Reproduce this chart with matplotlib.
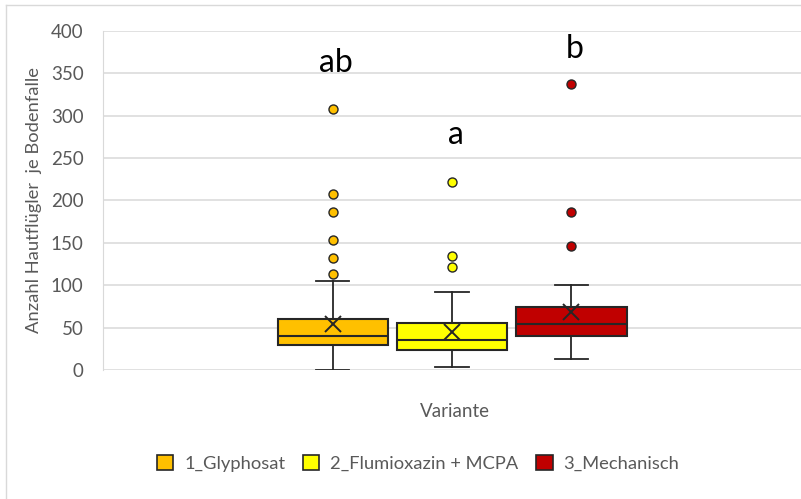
import matplotlib
matplotlib.use("Agg")
import matplotlib.pyplot as plt
from matplotlib.lines import Line2D
from matplotlib.patches import Patch

plt.rcParams['font.family'] = ['Lato', 'DejaVu Sans']

# Data
varianten = ['1_Glyphosat', '2_Flumioxazin + MCPA', '3_Mechanisch']
whisker_low = [0, 4, 13]
q1 = [29, 24, 40]
median = [40, 35, 54]
q3 = [60, 55, 74]
whisker_high = [105, 92, 100]
mean = [54, 45, 68]
outliers = [[308, 208, 186, 153, 132, 113],
            [222, 134, 122],
            [338, 186, 146]]
letters = ['ab', 'a', 'b']
letter_y = [352, 267, 368]
colors = ['#FFC000', '#FFFF00', '#C00000']
yticks = [0, 50, 100, 150, 200, 250, 300, 350, 400]

fig = plt.figure(figsize=(8.01, 4.99), dpi=100)
ax = fig.add_axes([0.1286, 0.2585, 0.8714, 0.6794])

# light chart border
fig.add_artist(Line2D([0.007, 0.007], [0, 0.99], transform=fig.transFigure, color='#D9D9D9', lw=1))
fig.add_artist(Line2D([0.007, 1], [0.99, 0.99], transform=fig.transFigure, color='#D9D9D9', lw=1))

positions = [0.5 + 0.171 * (i - 1) for i in range(len(varianten))]

for i in range(len(varianten)):
    stats = [dict(med=median[i], q1=q1[i], q3=q3[i], whislo=whisker_low[i],
                  whishi=whisker_high[i], mean=mean[i], fliers=outliers[i])]
    ax.bxp(stats, positions=[positions[i]], widths=0.158, patch_artist=True,
           showmeans=True, capwidths=0.048,
           boxprops=dict(facecolor=colors[i], edgecolor='#262626', linewidth=1.5),
           medianprops=dict(color='#262626', linewidth=1.5),
           whiskerprops=dict(color='#262626', linewidth=1.3),
           capprops=dict(color='#262626', linewidth=1.3),
           meanprops=dict(marker='x', markeredgecolor='#262626', markersize=11, markeredgewidth=1.4),
           flierprops=dict(marker='o', markerfacecolor=colors[i], markeredgecolor='#262626',
                           markersize=6.5, markeredgewidth=1.0),
           zorder=3)
    ax.text(positions[i] + 0.005, letter_y[i], letters[i], ha='center', va='baseline',
            fontsize=23, color='black')

ax.set_xlim(0, 1)
ax.set_ylim(0, 400)
ax.set_yticks(yticks)
ax.set_xticks([])
ax.tick_params(axis='y', length=0, labelsize=13.5, labelcolor='#595959', pad=14)
ax.grid(axis='y', color='#D9D9D9', linewidth=1.1, zorder=0)
ax.set_axisbelow(True)
for side in ['top', 'right', 'bottom']:
    ax.spines[side].set_visible(False)
ax.spines['left'].set_color('#D9D9D9')

ax.set_ylabel('Anzahl Hautflügler  je Bodenfalle', fontsize=13.2, color='#595959', labelpad=6)
fig.text(0.568, 0.176, 'Variante', ha='center', va='center', fontsize=13.5, color='#595959')

handles = [Patch(facecolor=c, edgecolor='#262626', linewidth=1.2) for c in colors]
fig.legend(handles, varianten, loc='center', bbox_to_anchor=(0.522, 0.072), ncol=3,
           frameon=False, fontsize=13.2, labelcolor='#595959', handlelength=0.9,
           handleheight=0.9, handletextpad=0.6, columnspacing=0.95)

fig.savefig('out.png', dpi=100)
